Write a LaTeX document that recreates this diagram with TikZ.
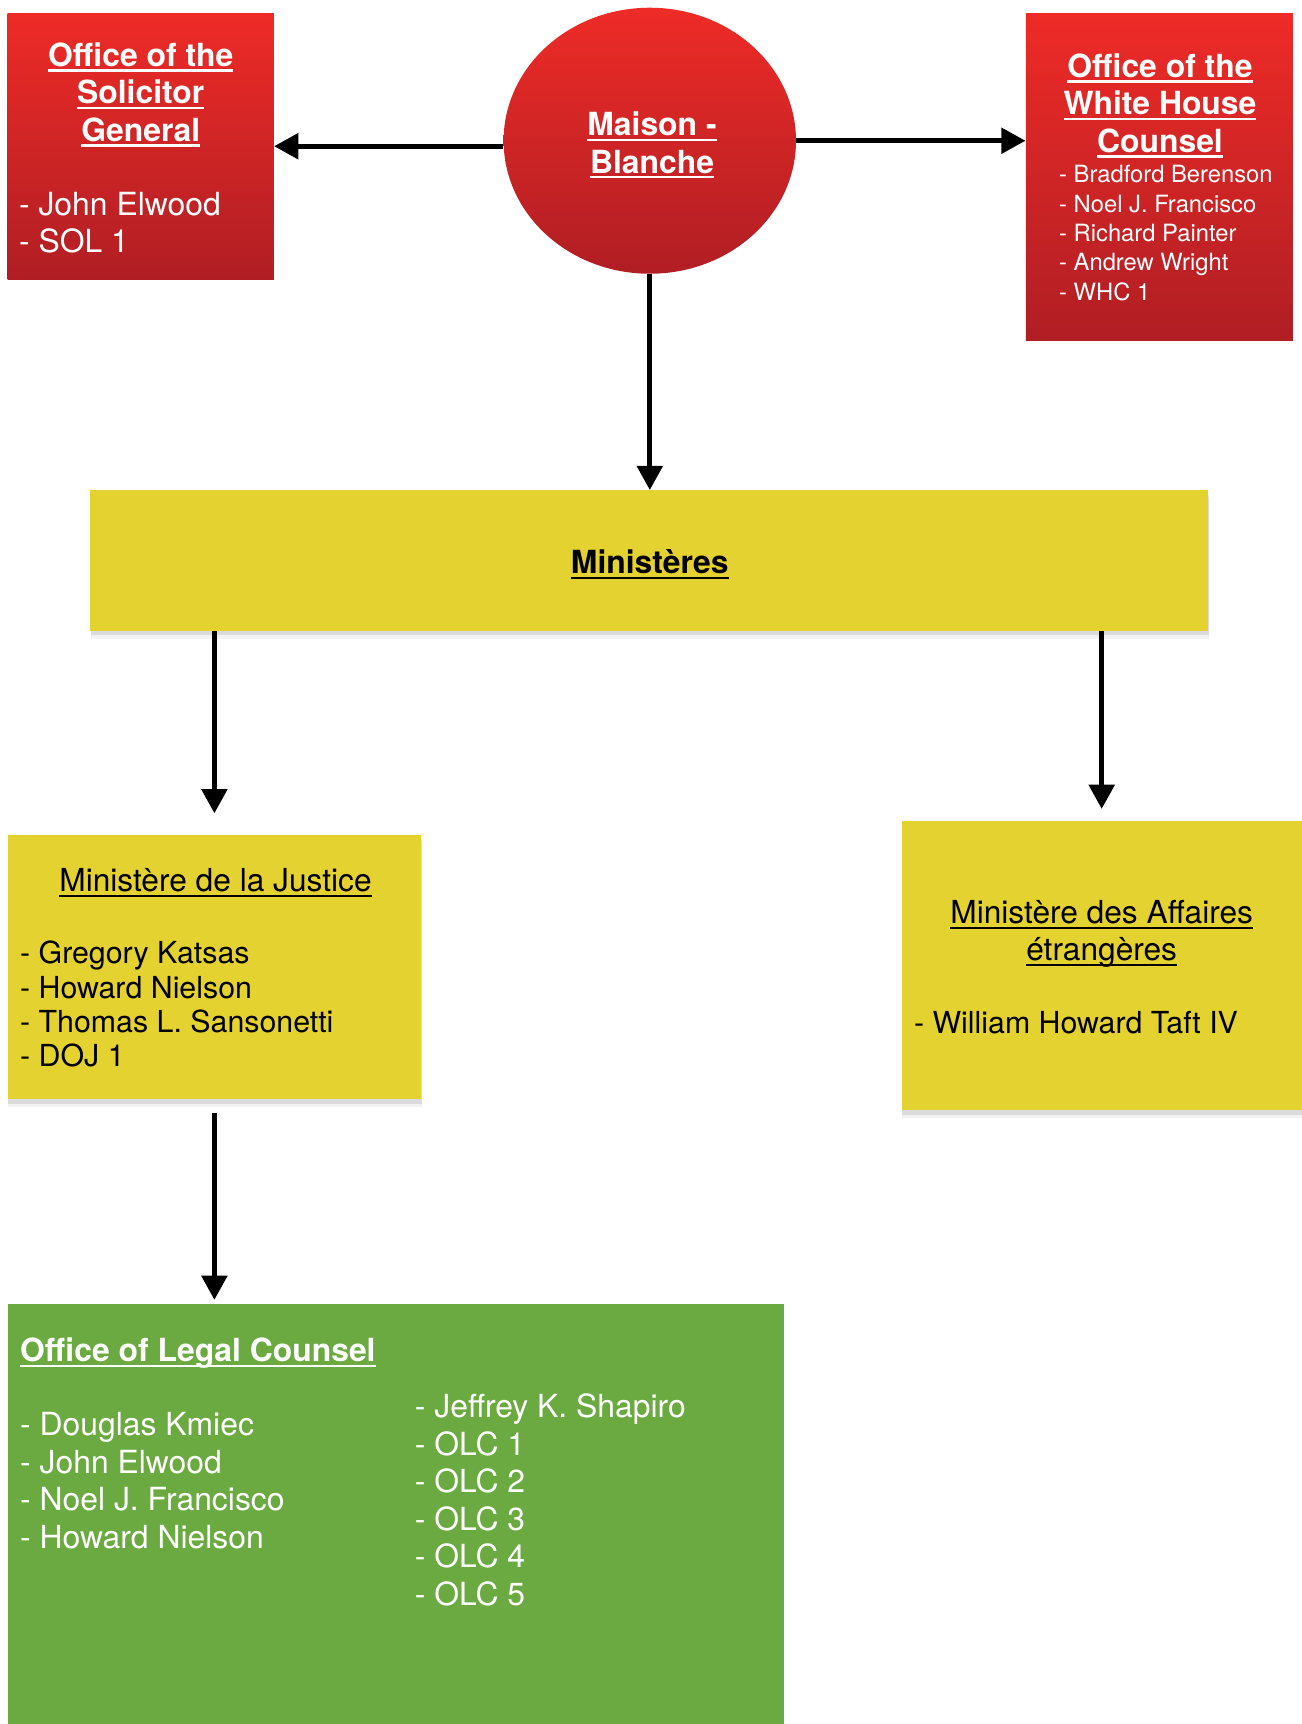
\documentclass[tikz,border=0pt]{standalone}
\usepackage{fontspec}
\setmainfont{TeX Gyre Heros}
\usetikzlibrary{arrows.meta,shapes.geometric,shadows}
\definecolor{redtop}{RGB}{238,43,39}
\definecolor{redbot}{RGB}{176,30,36}
\definecolor{mustard}{RGB}{228,210,48}
\definecolor{grass}{RGB}{106,170,64}
\newcommand{\ulbox}[1]{\setbox0=\hbox{#1}\rlap{\rule[-0.16em]{\wd0}{0.065em}}\box0}
\begin{document}
\begin{tikzpicture}[
        x=0.02cm, y=-0.02cm,
        font=\fontsize{16.5}{19.4}\selectfont
    ]
    \tikzset{
        redbox/.style = {rectangle, inner sep=0, top color=redtop, bottom color=redbot},
        yelbox/.style = {rectangle, inner sep=0, fill=mustard,
            drop shadow={shadow xshift=0.01cm, shadow yshift=-0.14cm, opacity=0.1},
            drop shadow={shadow xshift=0.01cm, shadow yshift=-0.08cm, opacity=0.2}},
        grnbox/.style = {rectangle, inner sep=0, fill=grass},
        titlew/.style = {inner sep=0, anchor=north, align=center, text=white, font=\fontsize{16.5}{19.4}\selectfont\bfseries},
        titleb/.style = {inner sep=0, anchor=north, align=center, text=black, font=\fontsize{16.5}{19.4}\selectfont\bfseries},
        headb/.style = {inner sep=0, anchor=north, align=center, text=black, font=\fontsize{16.4}{19.4}\selectfont},
        listw/.style = {inner sep=0, anchor=north west, align=left, text=white},
        listb/.style = {inner sep=0, anchor=north west, align=left, text=black, font=\fontsize{15.7}{17.8}\selectfont},
        arr/.style = {-{Triangle[length=0.44cm,width=0.46cm]}, line width=2.4pt},
    }
    \useasboundingbox (0,0) rectangle (1184,1568);
    \node[redbox, minimum width=4.84cm, minimum height=4.84cm] (sol) at (128,133) {};
    \node[ellipse, inner sep=0, minimum width=5.32cm, minimum height=4.84cm, top color=redtop, bottom color=redbot] (mb) at (591,128) {};
    \node[redbox, minimum width=4.86cm, minimum height=5.96cm] (whc) at (1054.5,161) {};
    \node[yelbox, minimum width=20.34cm, minimum height=2.56cm] (min) at (590.5,510) {};
    \node[yelbox, minimum width=7.52cm, minimum height=4.82cm] (jus) at (195,879.5) {};
    \node[yelbox, minimum width=7.28cm, minimum height=5.26cm] (aff) at (1002,878.5) {};
    \node[grnbox, minimum width=14.12cm, minimum height=7.7cm] (olc) at (360,1378) {};
    %
    \node[titlew] (soltitle) at (128,38.5) {\ulbox{Office of the}\\\ulbox{Solicitor}\\\ulbox{General}};
    \node[listw] (sollist) at (17,174.5) {- John Elwood\\- SOL 1};
    \node[titlew] (mbtitle) at (593,101.5) {\ulbox{Maison -}\\\ulbox{Blanche}};
    \node[titlew] (whctitle) at (1055,48.5) {\ulbox{Office of the}\\\ulbox{White House}\\\ulbox{Counsel}};
    \node[listw, font=\fontsize{12.3}{15.2}\selectfont] (whclist) at (963,150) {- Bradford Berenson\\- Noel J. Francisco\\- Richard Painter\\- Andrew Wright\\- WHC 1};
    %
    \node[titleb] (mintitle) at (591,499.5) {\ulbox{Ministères}};
    \node[headb] (justitle) at (196,789.5) {\ulbox{Ministère de la Justice}};
    \node[listb] (juslist) at (18,855.5) {- Gregory Katsas\\- Howard Nielson\\- Thomas L. Sansonetti\\- DOJ 1};
    \node[headb] (afftitle) at (1002,818.5) {\ulbox{Ministère des Affaires}\\\ulbox{étrangères}};
    \node[listb] (afflist) at (831,919.5) {- William Howard Taft IV};
    %
    \node[titlew, anchor=north west] (olctitle) at (18,1216.5) {\ulbox{Office of Legal Counsel}};
    \node[listw] (olcleft) at (18,1284.5) {- Douglas Kmiec\\- John Elwood\\- Noel J. Francisco\\- Howard Nielson};
    \node[listw] (olcright) at (377,1267.5) {- Jeffrey K. Shapiro\\- OLC 1\\- OLC 2\\- OLC 3\\- OLC 4\\- OLC 5};
    %
    \draw[arr] (mb.west |- sol.east) -- (sol.east);
    \draw[arr] (mb.east) -- (mb.east -| whc.west);
    \draw[arr] (mb.south) -- (mb.south |- min.north);
    \draw[arr, shorten >=0.38cm] (min.south -| jus.north) -- (jus.north);
    \draw[arr, shorten >=0.22cm] (min.south -| aff.north) -- (aff.north);
    \draw[arr, shorten <=0.24cm, shorten >=0.06cm] (jus.south) -- (jus.south |- olc.north);
\end{tikzpicture}
\end{document}
